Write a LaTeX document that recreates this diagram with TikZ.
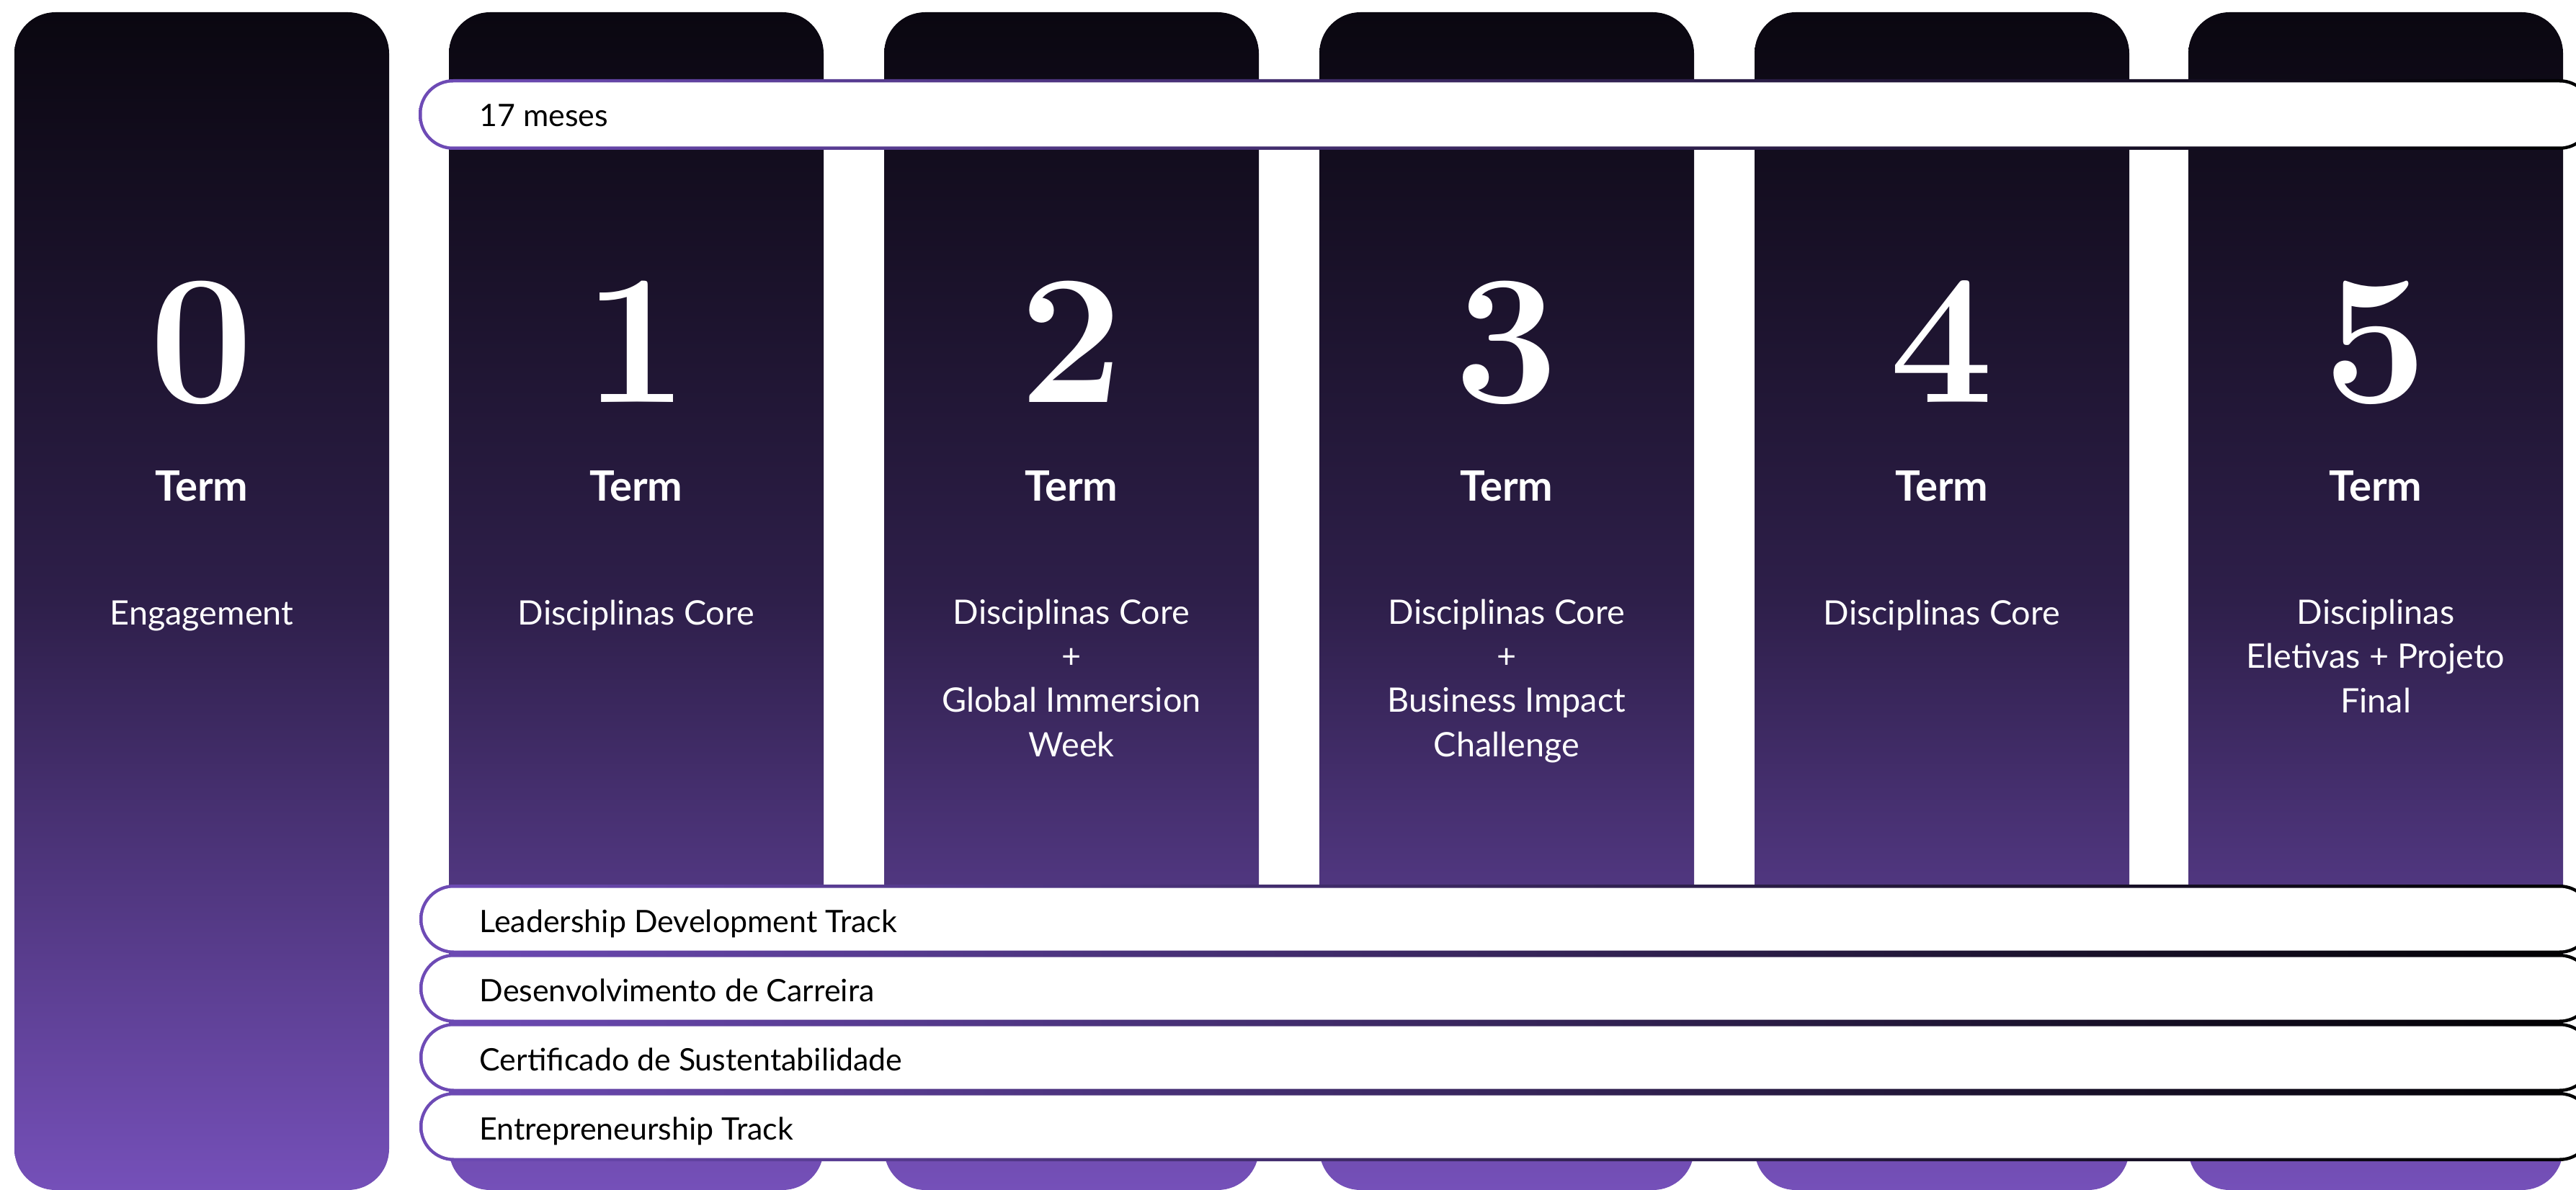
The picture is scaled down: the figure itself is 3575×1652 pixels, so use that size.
\documentclass[tikz,border=0pt]{standalone}
\usepackage[svgnames]{xcolor}
\usepackage{fontspec}
\setsansfont{Lato}
\usepackage{tikz}
\usetikzlibrary{positioning}

\definecolor{colTop}{HTML}{0A0710}
\definecolor{colMid}{HTML}{2E1F4A}
\definecolor{colBot}{HTML}{7550B9}
\definecolor{pillPurple}{HTML}{6E4BB6}

\begin{document}
\begin{tikzpicture}[line cap=round,line join=round,x=0.01cm,y=-0.01cm,
  column/.style={top color=colTop,bottom color=colBot,middle color=colMid,rounded corners=0.57cm},
  pillrim/.style={left color=pillPurple,right color=black,rounded corners=0.48cm},
  pillin/.style={fill=white,rounded corners=0.435cm},
  bignum/.style={color=white,inner sep=0pt,anchor=base,font=\rmfamily\bfseries\fontsize{73}{73}\selectfont},
  termlbl/.style={color=white,inner sep=0pt,anchor=base,font=\sffamily\bfseries\fontsize{16.5}{18}\selectfont},
  desc/.style={color=white,inner sep=0pt,anchor=base,align=center,font=\sffamily\fontsize{13.3}{17.4}\selectfont},
  track/.style={color=black,inner sep=0pt,anchor=base west,font=\sffamily\fontsize{12.2}{14}\selectfont}]
\useasboundingbox (0,0) rectangle (3575,1652);
\clip (0,0) rectangle (3575,1652);

% terms
\shade[column] (20,17) rectangle (540,1652);
\shade[column] (623,17) rectangle (1143,1652);
\shade[column] (1227,17) rectangle (1747,1652);
\shade[column] (1831,17) rectangle (2351,1652);
\shade[column] (2435,17) rectangle (2955,1652);
\shade[column] (3037,17) rectangle (3557,1652);

\draw (280,558) node[bignum] (numzero) {0};
\draw (883,558) node[bignum] (numone) {1};
\draw (1487,558) node[bignum] (numtwo) {2};
\draw (2091,558) node[bignum] (numthree) {3};
\draw (2695,558) node[bignum] (numfour) {4};
\draw (3297,558) node[bignum] (numfive) {5};

\draw (280,695) node[termlbl] (termzero) {Term};
\draw (883,695) node[termlbl] (termone) {Term};
\draw (1487,695) node[termlbl] (termtwo) {Term};
\draw (2091,695) node[termlbl] (termthree) {Term};
\draw (2695,695) node[termlbl] (termfour) {Term};
\draw (3297,695) node[termlbl] (termfive) {Term};

% base of a multi-line text is its last line
\draw (280,867) node[desc] (desczero) {Engagement};
\draw (883,867) node[desc] (descone) {Disciplinas Core};
\draw (1487,1050) node[desc] (desctwo) {Disciplinas Core\\+\\Global Immersion\\Week};
\draw (2091,1050) node[desc] (descthree) {Disciplinas Core\\+\\Business Impact\\Challenge};
\draw (2695,867) node[desc] (descfour) {Disciplinas Core};
\draw (3297,989) node[desc] (descfive) {Disciplinas\\Eletivas + Projeto\\Final};

% tracks
\shade[pillrim] (581,110) rectangle (3600,208);
\fill[pillin] (585.5,114.5) rectangle (3595.5,203.5);
\draw (665,176) node[track] (meses) {17 meses};

\shade[pillrim] (582,1228) rectangle (3600,1324);
\fill[pillin] (586.5,1232.5) rectangle (3595.5,1319.5);
\draw (665,1294) node[track] (leader) {Leadership Development Track};

\shade[pillrim] (582,1324) rectangle (3600,1420);
\fill[pillin] (586.5,1328.5) rectangle (3595.5,1415.5);
\draw (665,1390) node[track] (carreira) {Desenvolvimento de Carreira};

\shade[pillrim] (582,1420) rectangle (3600,1516);
\fill[pillin] (586.5,1424.5) rectangle (3595.5,1511.5);
\draw (665,1486) node[track] (sustent) {Certificado de Sustentabilidade};

\shade[pillrim] (582,1516) rectangle (3600,1612);
\fill[pillin] (586.5,1520.5) rectangle (3595.5,1607.5);
\draw (665,1582) node[track] (entrep) {Entrepreneurship Track};
\end{tikzpicture}
\end{document}
